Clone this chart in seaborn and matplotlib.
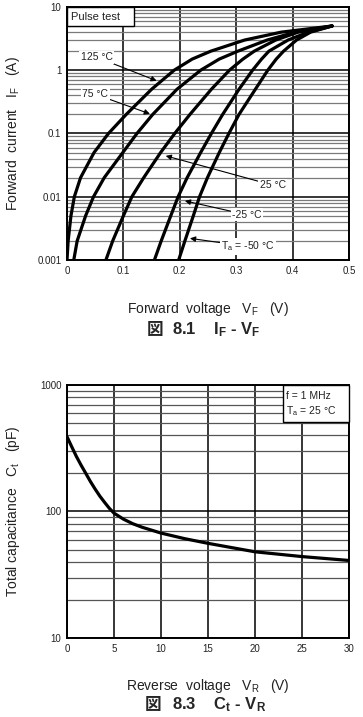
import numpy as np
import pandas as pd
import matplotlib
matplotlib.use("Agg")
import matplotlib.pyplot as plt
import seaborn as sns
from matplotlib.patches import Rectangle
from matplotlib.ticker import LogLocator, FixedLocator, FixedFormatter

# ---------- Data ----------
# IF - VF, forward current (A) vs forward voltage (V), one list per temperature
temps = ["125", "75", "25", "-25", "-50"]
if_vals = [0.001, 0.002, 0.005, 0.01, 0.02, 0.05, 0.1, 0.2, 0.5, 1.0, 1.5, 2.0, 3.0, 4.0, 5.0]
vf_125 = [0.000, 0.002, 0.007, 0.013, 0.024, 0.048, 0.0735, 0.105, 0.150, 0.190, 0.222, 0.255, 0.315, 0.380, 0.470]
vf_75 = [0.012, 0.018, 0.033, 0.047, 0.066, 0.099, 0.124, 0.152, 0.195, 0.237, 0.270, 0.303, 0.355, 0.405, 0.470]
vf_25 = [0.069, 0.081, 0.100, 0.115, 0.136, 0.166, 0.191, 0.218, 0.256, 0.288, 0.312, 0.332, 0.370, 0.410, 0.470]
vf_m25 = [0.155, 0.167, 0.184, 0.197, 0.213, 0.237, 0.256, 0.276, 0.305, 0.329, 0.345, 0.358, 0.392, 0.428, 0.470]
vf_m50 = [0.198, 0.209, 0.224, 0.235, 0.249, 0.270, 0.287, 0.305, 0.334, 0.356, 0.371, 0.384, 0.407, 0.432, 0.470]

# Ct - VR, total capacitance (pF) vs reverse voltage (V)
vr_vals = [0, 0.5, 1, 1.5, 2, 2.5, 3, 3.5, 4, 4.5, 5, 6, 7, 8, 10, 12.5, 15, 20, 25, 30]
ct_vals = [390, 325, 272, 232, 200, 172, 150, 132, 118, 106, 97, 87, 80, 75, 67.5, 61, 56, 48, 44, 41]

vf_ticks = [0, 0.1, 0.2, 0.3, 0.4, 0.5]
if_ticks = [0.001, 0.01, 0.1, 1, 10]
if_ticklabels = ["0.001", "0.01", "0.1", "1", "10"]
vr_ticks = [0, 5, 10, 15, 20, 25, 30]
ct_ticks = [10, 100, 1000]
ct_ticklabels = ["10", "100", "1000"]

# ---------- Style ----------
sns.set_theme(style="white")
plt.rcParams["font.family"] = ["Liberation Sans", "Noto Sans CJK JP", "DejaVu Sans"]
plt.rcParams["mathtext.fontset"] = "custom"
plt.rcParams["mathtext.rm"] = "Liberation Sans"
plt.rcParams["mathtext.it"] = "Liberation Sans:italic"
plt.rcParams["mathtext.bf"] = "Liberation Sans:bold"

TXT = "#222222"


def style_log_axes(ax, minor_color):
    ax.grid(False)
    ax.yaxis.set_minor_locator(LogLocator(base=10, subs=np.arange(2, 10)))
    ax.grid(True, which="major", axis="both", color="black", lw=1.1)
    ax.grid(True, which="minor", axis="y", color=minor_color, lw=0.9)
    ax.set_axisbelow(True)
    for s in ax.spines.values():
        s.set_color("black")
        s.set_linewidth(1.4)
    ax.tick_params(which="both", length=0, labelsize=7, colors=TXT, pad=4)
    ax.yaxis.set_minor_formatter(plt.NullFormatter())
    ax.yaxis.label.set_va("center")


def corner_box(ax, x0, y0, w, h):
    ax.add_patch(Rectangle((x0, y0), w, h, transform=ax.transAxes, fc="white",
                           ec="black", lw=1.0, zorder=3, clip_on=False))


fig = plt.figure(figsize=(3.63, 7.17), dpi=100)

# ---------- IF - VF ----------
ax1 = fig.add_axes([0.1846, 0.6374, 0.7768, 0.3529])
df_if = pd.concat([
    pd.DataFrame({"VF": v, "IF": if_vals, "Ta": t})
    for v, t in zip([vf_125, vf_75, vf_25, vf_m25, vf_m50], temps)
])
sns.lineplot(data=df_if, x="VF", y="IF", hue="Ta", units="Ta", estimator=None,
             palette=["black"] * 5, lw=2.3, legend=False, ax=ax1)
ax1.set_yscale("log")
ax1.set_xlim(0, 0.5)
ax1.set_ylim(0.001, 10)
ax1.xaxis.set_major_locator(FixedLocator(vf_ticks))
ax1.set_xticklabels([f"{t:g}" for t in vf_ticks])
ax1.yaxis.set_major_locator(FixedLocator(if_ticks))
ax1.yaxis.set_major_formatter(FixedFormatter(if_ticklabels))
style_log_axes(ax1, "#7a7a7a")
ax1.set_xlabel(r"Forward  voltage   V$_\mathrm{F}$   (V)", fontsize=10, color=TXT)
ax1.set_ylabel(r"Forward  current   I$_\mathrm{F}$   (A)", fontsize=10, color=TXT)
ax1.xaxis.set_label_coords(0.5, -0.158)
ax1.yaxis.set_label_coords(-0.191, 0.5)

corner_box(ax1, 0.0, 0.925, 0.238, 0.075)
ax1.text(0.014, 0.962, "Pulse test", transform=ax1.transAxes, fontsize=8,
         va="center", ha="left", color=TXT, zorder=4)

box = dict(boxstyle="square,pad=0.15", fc="white", ec="none")
arrow = dict(arrowstyle="-|>", color="black", lw=0.8, mutation_scale=8, shrinkA=0, shrinkB=0)
labels = [
    ("125 °C", (0.053, 1.6), (0.159, 0.68)),
    ("75 °C", (0.050, 0.418), (0.147, 0.204)),
    ("25 °C", (0.365, 0.0152), (0.175, 0.0443)),
    ("-25 °C", (0.319, 0.00518), (0.209, 0.0086)),
    (r"T$_\mathrm{a}$ = -50 °C", (0.321, 0.00163), (0.218, 0.0022)),
]
for txt, xytext, xy in labels:
    ax1.annotate(txt, xy=xy, xytext=xytext, fontsize=7.5, ha="center", va="center",
                 bbox=box, arrowprops=arrow, color=TXT)

fig.text(155 / 363, 1 - 330 / 717, "図", fontsize=12, fontweight="bold",
         ha="center", va="center", family=["Noto Sans CJK JP"])
fig.text(172 / 363, 1 - 330 / 717, r"8.1    I$_\mathbf{F}$ - V$_\mathbf{F}$",
         fontsize=12, fontweight="bold", ha="left", va="center")

# ---------- Ct - VR ----------
ax2 = fig.add_axes([0.1846, 0.1102, 0.7768, 0.3529])
df_ct = pd.DataFrame({"VR": vr_vals, "Ct": ct_vals})
sns.lineplot(data=df_ct, x="VR", y="Ct", color="black", lw=2.3, ax=ax2)
ax2.set_yscale("log")
ax2.set_xlim(0, 30)
ax2.set_ylim(10, 1000)
ax2.xaxis.set_major_locator(FixedLocator(vr_ticks))
ax2.set_xticklabels([str(t) for t in vr_ticks])
ax2.yaxis.set_major_locator(FixedLocator(ct_ticks))
ax2.yaxis.set_major_formatter(FixedFormatter(ct_ticklabels))
style_log_axes(ax2, "#555555")
ax2.set_xlabel(r"Reverse  voltage   V$_\mathrm{R}$   (V)", fontsize=10, color=TXT)
ax2.set_ylabel(r"Total capacitance   C$_\mathrm{t}$   (pF)", fontsize=10, color=TXT)
ax2.xaxis.set_label_coords(0.5, -0.154)
ax2.yaxis.set_label_coords(-0.191, 0.5)

corner_box(ax2, 0.765, 0.853, 0.235, 0.147)
ax2.text(0.775, 0.957, "f = 1 MHz", transform=ax2.transAxes, fontsize=7.5,
         va="center", ha="left", color=TXT, zorder=4)
ax2.text(0.775, 0.898, r"T$_\mathrm{a}$ = 25 °C", transform=ax2.transAxes, fontsize=7.5,
         va="center", ha="left", color=TXT, zorder=4)

fig.text(153 / 363, 1 - 705 / 717, "図", fontsize=12, fontweight="bold",
         ha="center", va="center", family=["Noto Sans CJK JP"])
fig.text(172 / 363, 1 - 705 / 717, r"8.3    C$_\mathbf{t}$ - V$_\mathbf{R}$",
         fontsize=12, fontweight="bold", ha="left", va="center")

fig.savefig("out.png", dpi=100)
